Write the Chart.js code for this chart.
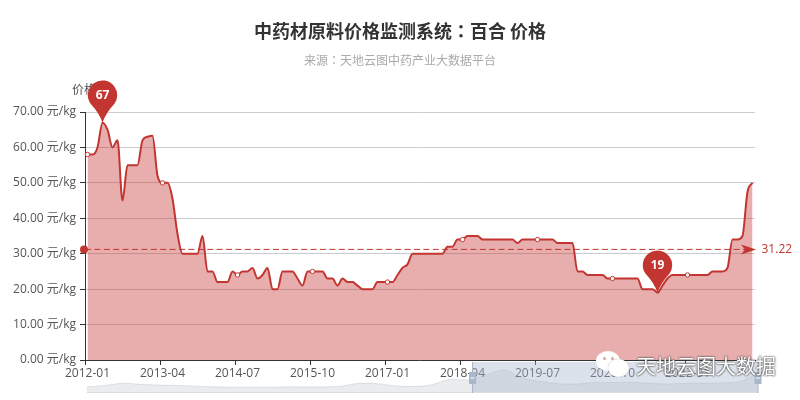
<!DOCTYPE html>
<html>
<head>
<meta charset="utf-8">
<title>百合 价格</title>
<script src="https://cdn.jsdelivr.net/npm/chart.js@4"></script>
<style>
  html, body { margin: 0; padding: 0; background: #fff; overflow: hidden; }
  #wrap { position: relative; width: 800px; height: 400px; font-family: "Noto Sans CJK SC", sans-serif; }
  #wrap canvas { position: absolute; left: 0; }
  #mainBox { position: absolute; left: 0; top: 0; width: 800px; height: 400px; }
  #zoomBox { position: absolute; left: 0; top: 362px; width: 800px; height: 32px; }
  .bubble { position: absolute; background: #fff; border-radius: 50%; }
  .eye { position: absolute; width: 3px; height: 3px; border-radius: 50%; background: #d9a3a3; }
  #mark { position: absolute; left: 636px; top: 352px; font-size: 20px; line-height: 28px; color: #fff;
          text-shadow: 0 0 2px #444, 0 0 2px #444; white-space: nowrap; }
</style>
</head>
<body>
<div id="wrap">
  <div id="mainBox"><canvas id="chartPrecio"></canvas></div>
  <div id="zoomBox"><canvas id="chartZoom"></canvas></div>
  <div class="bubble" style="left:596px;top:351px;width:24px;height:20px"></div>
  <div class="eye" style="left:603px;top:357px"></div>
  <div class="eye" style="left:611px;top:357px"></div>
  <div class="bubble" style="left:608px;top:359px;width:21px;height:18px;box-shadow:0 0 1px #999"></div>
  <div id="mark">天地云图大数据</div>
</div>
<script>
const titulo = "中药材原料价格监测系统：百合 价格";
const subtitulo = "来源：天地云图中药产业大数据平台";
const nombreEje = "价格";
const unidad = " 元/kg";
const promedio = 31.22;
const pasoEtiquetas = 15;

// precios mensuales
const precios = [
  58, 58, 60, 67, 65, 60, 62, 45, 55, 55, 55, 62, 63, 63.3, 52,
  50, 50, 45.5, 35.6, 30, 30, 30, 30, 35, 25, 25, 22, 22, 22, 25,
  24, 25, 25, 26, 23, 24, 26, 20, 20, 25, 25, 25, 23, 21, 25,
  25, 25, 25, 23, 23, 21, 23, 22, 22, 21, 20, 20, 20, 22, 22,
  22, 22, 24, 26, 27, 30, 30, 30, 30, 30, 30, 30, 32, 32, 34,
  34, 35, 35, 35, 34, 34, 34, 34, 34, 34, 34, 33, 34, 34, 34,
  34, 34, 34, 34, 33, 33, 33, 33, 25, 25, 24, 24, 24, 24, 23,
  23, 23, 23, 23, 23, 23, 20, 20, 20, 19, 21, 23, 24, 24, 24,
  24, 24, 24, 24, 24, 25, 25, 25, 26, 34, 34, 35, 47.5, 50
];

// meses, desde 2012-01
const meses = [];
for (let i = 0; i < precios.length; i++) {
  let anio = 2012 + Math.floor(i / 12);
  let mes = (i % 12) + 1;
  meses.push(anio + "-" + String(mes).padStart(2, "0"));
}

// serie completa del selector de abajo
const preciosResumen = [
  17, 21, 27, 24, 22, 21, 19, 17, 16, 16,
  16, 17, 17, 17, 19, 27, 26, 20, 18, 23,
  38, 36, 50, 64, 42, 32, 26, 25, 29, 29,
  30, 27, 25, 27, 27, 28, 32, 55
];
const indicesResumen = preciosResumen.map((v, i) => i);
const ventanaInicio = 21.26;
const ventanaFin = 37;

const rojo = "#c23531";
const fuente = '"Open Sans", "Noto Sans CJK SC", sans-serif';
// la TC centra los dos puntos de ancho completo, como el original
const fuenteTitulo = '"Noto Sans CJK TC", sans-serif';

function dibujarPin(ctx, x, punta, texto) {
  let r = 14.7;
  let cy = punta - 27.5;
  ctx.beginPath();
  ctx.arc(x, cy, r, Math.PI * 0.8, Math.PI * 0.2);
  ctx.quadraticCurveTo(x + 3, cy + r * 1.25, x, punta);
  ctx.quadraticCurveTo(x - 3, cy + r * 1.25, x - r * Math.cos(Math.PI * 0.2), cy + r * Math.sin(Math.PI * 0.2));
  ctx.closePath();
  ctx.fillStyle = rojo;
  ctx.fill();
  ctx.fillStyle = "#fff";
  ctx.font = "bold 12px " + fuente;
  ctx.textAlign = "center";
  ctx.textBaseline = "middle";
  ctx.fillText(texto, x, cy);
}

// linea de promedio y pines de maximo y minimo
const marcas = {
  id: "marcas",
  afterDatasetsDraw(chart) {
    let ctx = chart.ctx;
    let area = chart.chartArea;
    let ex = chart.scales.x;
    let ey = chart.scales.y;
    let yProm = ey.getPixelForValue(promedio);
    ctx.save();

    ctx.strokeStyle = rojo;
    ctx.lineWidth = 1;
    ctx.setLineDash([6, 3.4]);
    ctx.beginPath();
    ctx.moveTo(area.left, yProm);
    ctx.lineTo(area.right - 8, yProm);
    ctx.stroke();
    ctx.setLineDash([]);

    ctx.fillStyle = rojo;
    ctx.beginPath();
    ctx.arc(area.left - 1, yProm, 4, 0, Math.PI * 2);
    ctx.fill();

    ctx.beginPath();
    ctx.moveTo(area.right + 1, yProm);
    ctx.lineTo(area.right - 14, yProm - 5);
    ctx.lineTo(area.right - 10, yProm);
    ctx.lineTo(area.right - 14, yProm + 5);
    ctx.closePath();
    ctx.fill();

    ctx.font = "12px " + fuente;
    ctx.textAlign = "left";
    ctx.textBaseline = "middle";
    ctx.fillText(promedio.toFixed(2), area.right + 6.5, yProm);

    ctx.fillStyle = "#555";
    ctx.textAlign = "left";
    ctx.fillText(nombreEje, 72, 91);

    let maximo = Math.max(...precios);
    let minimo = Math.min(...precios);
    dibujarPin(ctx, ex.getPixelForValue(precios.indexOf(maximo)), ey.getPixelForValue(maximo), String(maximo));
    dibujarPin(ctx, ex.getPixelForValue(precios.indexOf(minimo)), ey.getPixelForValue(minimo), String(minimo));
    ctx.restore();
  }
};

new Chart(document.getElementById("chartPrecio"), {
  type: "line",
  data: {
    labels: meses,
    datasets: [{
      data: precios,
      borderColor: rojo,
      borderWidth: 2,
      backgroundColor: "rgba(194,53,49,0.4)",
      fill: "origin",
      cubicInterpolationMode: "monotone",
      pointRadius: (c) => c.dataIndex % pasoEtiquetas === 0 ? 2.2 : 0,
      pointBackgroundColor: "#fff",
      pointBorderColor: rojo,
      pointBorderWidth: 1,
      pointHoverRadius: 0
    }]
  },
  options: {
    responsive: true,
    maintainAspectRatio: false,
    animation: false,
    plugins: {
      legend: { display: false },
      tooltip: { enabled: false },
      title: {
        display: true,
        text: titulo,
        color: "#333",
        font: { family: fuenteTitulo, size: 18, weight: "bold", lineHeight: 1.2 },
        padding: { top: 20, bottom: 11.2 }
      },
      subtitle: {
        display: true,
        text: subtitulo,
        color: "#aaa",
        font: { family: fuenteTitulo, size: 12, lineHeight: 1.2 },
        padding: { top: 0, bottom: 44.8 }
      }
    },
    scales: {
      x: {
        type: "category",
        offset: true,
        afterFit(scale) { scale.height = 40; },
        border: { color: "#333" },
        grid: {
          display: true,
          offset: true,
          drawOnChartArea: false,
          tickLength: 5,
          tickColor: (c) => c.index % pasoEtiquetas === 0 ? "#333" : "rgba(0,0,0,0)"
        },
        ticks: {
          autoSkip: false,
          maxRotation: 0,
          padding: 1,
          color: "#555",
          font: { family: fuente, size: 12 },
          callback(valor, indice) {
            return indice % pasoEtiquetas === 0 ? meses[indice] : "";
          }
        }
      },
      y: {
        min: 0,
        max: 70,
        afterFit(scale) { scale.width = 85; },
        border: { color: "#333" },
        grid: { color: "#ccc", tickColor: "#333", tickLength: 5 },
        ticks: {
          stepSize: 10,
          padding: 4,
          color: "#555",
          font: { family: fuente, size: 12 },
          callback(valor) { return valor.toFixed(2) + unidad; }
        }
      },
      // eje vacio: reserva el margen derecho sin descentrar el titulo
      margenDerecho: {
        position: "right",
        afterFit(scale) { scale.width = 45; },
        border: { display: false },
        grid: { display: false },
        ticks: { display: false }
      }
    }
  },
  plugins: [marcas]
});

// ventana y manijas del selector
const ventana = {
  id: "ventana",
  afterDatasetsDraw(chart) {
    let ctx = chart.ctx;
    let area = chart.chartArea;
    let x0 = chart.scales.x.getPixelForValue(ventanaInicio);
    let x1 = chart.scales.x.getPixelForValue(ventanaFin);
    ctx.save();
    ctx.fillStyle = "rgba(167,183,204,0.4)";
    ctx.fillRect(x0, 0, x1 - x0, chart.height - 1);
    ctx.fillStyle = "#ddd";
    ctx.fillRect(area.left, chart.height - 2, area.width, 1);
    for (let x of [x0, x1]) {
      ctx.fillStyle = "#a7b7cc";
      ctx.fillRect(x - 0.5, 0, 1, chart.height - 1);
      ctx.fillRect(x - 3.5, 10, 7, 12);
      ctx.fillStyle = "#fff";
      ctx.fillRect(x - 2, 15.5, 4, 1);
    }
    ctx.restore();
  }
};

new Chart(document.getElementById("chartZoom"), {
  type: "line",
  data: {
    labels: indicesResumen,
    datasets: [{
      data: preciosResumen,
      borderColor: "rgba(47,69,84,0.12)",
      borderWidth: 1,
      backgroundColor: "rgba(47,69,84,0.1)",
      fill: "origin",
      tension: 0.3,
      pointRadius: 0
    }]
  },
  options: {
    responsive: true,
    maintainAspectRatio: false,
    animation: false,
    layout: { padding: { left: 87, right: 42, bottom: 1 } },
    plugins: { legend: { display: false }, tooltip: { enabled: false } },
    scales: {
      x: { display: false },
      y: { display: false, min: 0, max: 86 }
    }
  },
  plugins: [ventana]
});
</script>
</body>
</html>
